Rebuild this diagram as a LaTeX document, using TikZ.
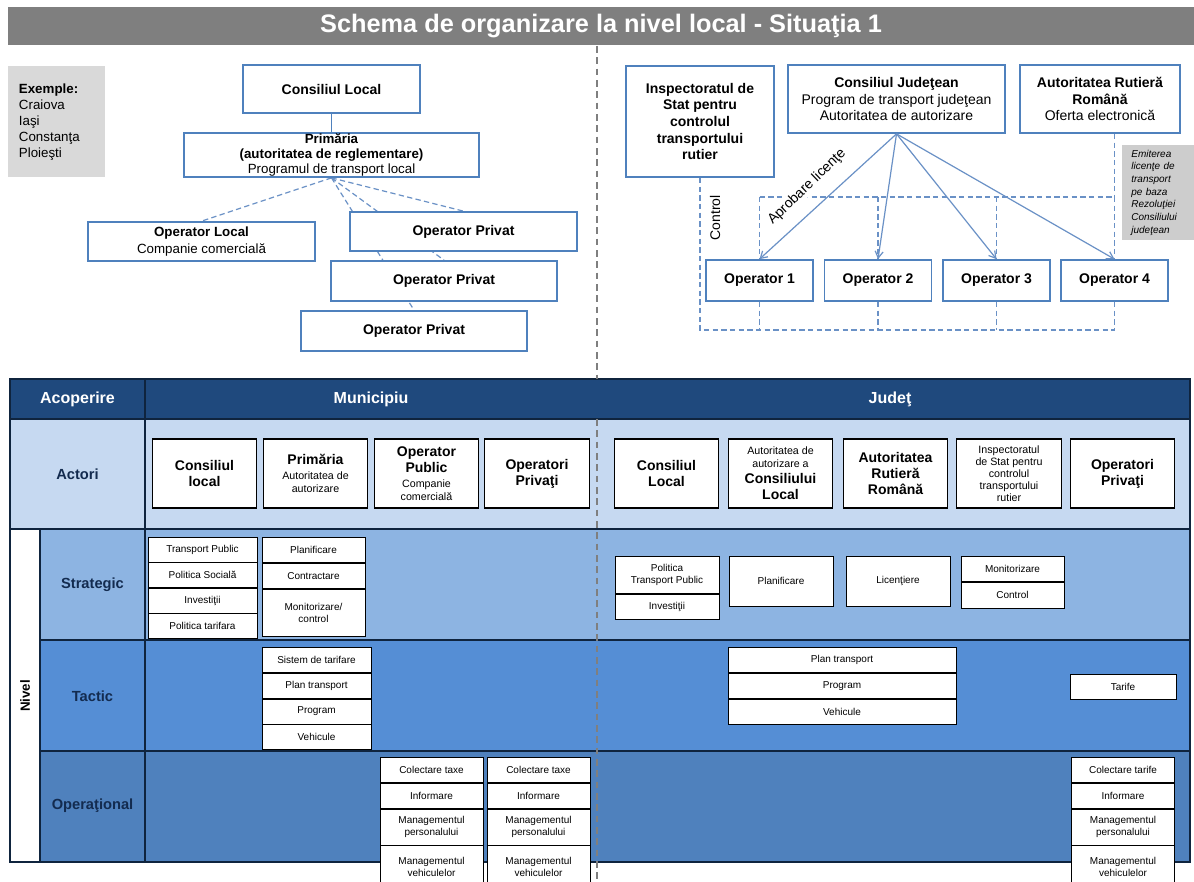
\documentclass[tikz,border=0pt]{standalone}
\usepackage{fontspec}
\setmainfont{Liberation Sans}
\usepackage{tikz}
\usetikzlibrary{arrows.meta,positioning}
\definecolor{Title}{HTML}{7F7F7F}
\definecolor{Shade}{HTML}{D9D9D9}
\definecolor{NoteGray}{HTML}{CDCDCD}
\definecolor{BoxLine}{HTML}{4F81BD}
\definecolor{Link}{HTML}{6A91C6}
\definecolor{Head}{HTML}{1F497D}
\definecolor{Grid}{HTML}{0F243E}
\definecolor{ActRow}{HTML}{C6D9F1}
\definecolor{StratRow}{HTML}{8DB4E2}
\definecolor{TactRow}{HTML}{558ED5}
\definecolor{OperRow}{HTML}{4F81BD}
\definecolor{Navy}{HTML}{132B4F}
\pgfdeclarelayer{back}
\pgfsetlayers{back,main}
\newcommand\actsmall{\fontsize{8}{9.5}\mdseries\selectfont}
\tikzset{
  orgbox/.style={draw=BoxLine, fill=white, line width=1.3pt, align=center, inner sep=0pt, font=\fontsize{10.5}{12.5}\selectfont},
  link/.style={draw=Link, line width=0.9pt, -{Straight Barb[length=5pt,width=6pt]}},
  dashlink/.style={draw=Link, line width=0.9pt, dash pattern=on 4pt off 2.5pt},
  divider/.style={draw=Title, line width=1.2pt, dash pattern=on 5pt off 3.5pt},
  actor/.style={draw=black, fill=white, line width=0.8pt, align=center, inner sep=0pt, minimum width=78.5pt, minimum height=51.75pt, font=\fontsize{10.5}{12}\bfseries\selectfont},
  cell/.style={draw=black, fill=white, line width=0.6pt, align=center, inner sep=0pt, font=\fontsize{7.5}{9}\selectfont},
  rowlabel/.style={text=Navy, font=\fontsize{11}{13}\bfseries\selectfont},
  collabel/.style={text=white, font=\fontsize{12}{14}\bfseries\selectfont},
  grid/.style={draw=Grid, line width=1.8pt}
}

\begin{document}
\begin{tikzpicture}[x=0.75pt, y=-0.75pt, node distance=0pt]
  \useasboundingbox (0,0) rectangle (1194,881);
  \clip (0,0) rectangle (1194,881);
  \begin{pgfonlayer}{back}
    \fill[white] (0,0) rectangle (1194,881);
  \end{pgfonlayer}

  % title
  \node[fill=Title, minimum width=889.5pt, minimum height=28.5pt, inner sep=0pt, text=white, font=\fontsize{19}{21}\bfseries\selectfont] (title) at (601,26) {Schema de organizare la nivel local - Situaţia 1};

  % local level, left half
  \node[fill=Shade, anchor=north west, inner xsep=8pt, inner ysep=0pt, text width=56.75pt, minimum height=83.25pt, align=left, font=\fontsize{10}{12}\selectfont] (ex) at (8,66) {\textbf{Exemple:}\\Craiova\\Iaşi\\Constanţa\\Ploieşti};
  \node[orgbox, minimum width=132.75pt, minimum height=36pt] (cl) at (331.5,89) {\textbf{Consiliul Local}};
  \node[orgbox, minimum width=221.25pt, minimum height=33pt, font=\fontsize{10}{11}\selectfont] (prim) at (331.5,155) {\textbf{Primăria}\\\textbf{(autoritatea de reglementare)}\\Programul de transport local};
  \node[orgbox, minimum width=170.25pt, minimum height=29.25pt, font=\fontsize{10}{12.5}\selectfont] (oploc) at (201.5,241.5) {\textbf{Operator Local}\\Companie comercială};
  \node[orgbox, minimum width=170.25pt, minimum height=29.25pt] (opp1) at (463.5,231.5) {\textbf{Operator Privat}};
  \node[orgbox, minimum width=169.5pt, minimum height=30pt] (opp2) at (444,281) {\textbf{Operator Privat}};
  \node[orgbox, minimum width=169.5pt, minimum height=30pt] (opp3) at (414,331) {\textbf{Operator Privat}};
  \draw[draw=BoxLine, line width=0.9pt] (cl.south) -- (prim.north);
  \begin{pgfonlayer}{back}
    \foreach \t in {oploc,opp1,opp2,opp3}
      \draw[dashlink] (prim.south) -- (\t.north);
  \end{pgfonlayer}

  % county level, right half
  \node[orgbox, minimum width=111pt, minimum height=83.25pt, font=\fontsize{10.5}{12.4}\bfseries\selectfont] (isc) at (700,121.5) {Inspectoratul de\\Stat pentru\\controlul\\transportului\\rutier};
  \node[orgbox, minimum width=162.75pt, minimum height=51pt] (cj) at (896.5,99) {\textbf{Consiliul Judeţean}\\Program de transport judeţean\\Autoritatea de autorizare};
  \node[orgbox, minimum width=120pt, minimum height=51pt] (arr) at (1100,99) {\textbf{Autoritatea Rutieră}\\\textbf{Română}\\Oferta electronică};
  \node[fill=NoteGray, minimum width=54pt, minimum height=71.25pt, text width=40pt, inner xsep=7pt, align=left, font=\fontsize{7.5}{9.5}\itshape\selectfont] (note) at (1158,192.5) {Emiterea\\licenţe de\\transport\\pe baza\\Rezoluţiei\\Consiliului\\judeţean};
  \foreach \i/\x in {1/759.5,2/878,3/996.5,4/1114.5}
    \node[orgbox, minimum width=80.25pt, minimum height=30.75pt, font=\fontsize{10.5}{12}\bfseries\selectfont] (op\i) at (\x,280.5) {Operator \i};

  \coordinate (ctop) at (0,197);
  \coordinate (cbot) at (0,330);
  \draw[dashlink] (op1.north |- ctop) -- (op4.north |- ctop);
  \foreach \i in {1,...,4} {
    \draw[dashlink] (op\i.north |- ctop) -- (op\i.north);
    \draw[dashlink] (op\i.south) -- (op\i.south |- cbot);
  }
  \draw[dashlink] (isc.south) -- (isc.south |- cbot) -- (op4.south |- cbot);
  \draw[dashlink] (arr.south -| op4.north) -- (op4.north |- ctop);
  \node[rotate=90, font=\fontsize{10.5}{12}\selectfont] (ctl) at (715,218) {Control};

  \node[rotate=44, fill=white, inner sep=1pt, font=\fontsize{10.5}{12}\selectfont] (aprob) at (807,187) {Aprobare licenţe};
  \foreach \i in {1,...,4}
    \draw[link] (cj.south) -- (op\i.north);

  % table
  \fill[Head] (10,379) rectangle (1190,419);
  \fill[ActRow] (10,419) rectangle (1190,529);
  \fill[StratRow] (40,529) rectangle (1190,640);
  \fill[TactRow] (40,640) rectangle (1190,751);
  \fill[OperRow] (40,751) rectangle (1190,862);
  \fill[white] (10,529) rectangle (40,862);
  \draw[grid] (10,379) rectangle (1190,862);
  \draw[grid] (10,419) -- (1190,419) (10,529) -- (1190,529)
              (40,640) -- (1190,640) (40,751) -- (1190,751)
              (40,529) -- (40,862) (145,379) -- (145,862);

  \node[collabel] (acop) at (77.5,399) {Acoperire};
  \node[collabel] (mun) at (371,399) {Municipiu};
  \node[collabel] (jud) at (890,399) {Judeţ};
  \node[rowlabel] (actori) at (77.5,474) {Actori};
  \node[rowlabel] (strat) at (92.5,585) {Strategic};
  \node[rowlabel] (tact) at (92.5,696) {Tactic};
  \node[rowlabel] (oper) at (92.5,806) {Operaţional};
  \node[rowlabel, text=black, font=\fontsize{10}{12}\bfseries\selectfont, rotate=90] (nivel) at (25,696) {Nivel};

  % actors
  \node[actor] (a1) at (204.5,473.5) {Consiliul\\local};
  \node[actor] (a2) at (315.5,473.5) {Primăria\\[-1pt]\actsmall Autoritatea de\\[-2.5pt]\actsmall autorizare};
  \node[actor] (a3) at (426.5,473.5) {Operator\\Public\\[-1pt]\actsmall Companie\\[-2.5pt]\actsmall comercială};
  \node[actor] (a4) at (537,473.5) {Operatori\\Privaţi};
  \node[actor] (a5) at (666.5,473.5) {Consiliul\\Local};
  \node[actor] (a6) at (780.5,473.5) {\actsmall Autoritatea de\\[-2.5pt]\actsmall autorizare a\\Consiliului\\Local};
  \node[actor] (a7) at (895.5,473.5) {Autoritatea\\Rutieră\\Română};
  \node[actor] (a8) at (1009,473.5) {\actsmall Inspectoratul\\[-3pt]\actsmall de Stat pentru\\[-3pt]\actsmall controlul\\[-3pt]\actsmall transportului\\[-3pt]\actsmall rutier};
  \node[actor] (a9) at (1122.5,473.5) {Operatori\\Privaţi};

  % strategic
  \node[cell, minimum width=81.75pt, minimum height=18.5pt, anchor=north] (sml1) at (202.5,537) {Transport Public};
  \foreach \txt [count=\i from 2, remember=\i as \j (initially 1)] in {Politica Socială,Investiţii,Politica tarifara}
    \node[cell, minimum width=81.75pt, minimum height=18.5pt, below=of sml\j] (sml\i) {\txt};
  \node[cell, minimum width=77.25pt, minimum height=18.75pt, anchor=north] (smr1) at (313.5,537) {Planificare};
  \node[cell, minimum width=77.25pt, minimum height=18.75pt, below=of smr1] (smr2) {Contractare};
  \node[cell, minimum width=77.25pt, minimum height=35.25pt, below=of smr2] (smr3) {Monitorizare/\\control};

  \node[cell, minimum width=78pt, minimum height=27.75pt, anchor=north] (sj1) at (667,556) {Politica\\Transport Public};
  \node[cell, minimum width=78pt, minimum height=18.75pt, below=of sj1] (sj2) {Investiţii};
  \node[cell, minimum width=78pt, minimum height=37.5pt, anchor=north] (sj3) at (781,556) {Planificare};
  \node[cell, minimum width=78pt, minimum height=37.5pt, anchor=north] (sj4) at (898,556) {Licenţiere};
  \node[cell, minimum width=77.25pt, minimum height=18.75pt, anchor=north] (sj5) at (1012.5,556) {Monitorizare};
  \node[cell, minimum width=77.25pt, minimum height=19.5pt, below=of sj5] (sj6) {Control};

  % tactic
  \node[cell, minimum width=81.75pt, minimum height=18.75pt, anchor=north] (tm1) at (316.5,647) {Sistem de tarifare};
  \foreach \txt [count=\i from 2, remember=\i as \j (initially 1)] in {Plan transport,Program,Vehicule}
    \node[cell, minimum width=81.75pt, minimum height=18.75pt, below=of tm\j] (tm\i) {\txt};
  \node[cell, minimum width=171pt, minimum height=18.75pt, anchor=north] (tj1) at (842,647) {Plan transport};
  \foreach \txt [count=\i from 2, remember=\i as \j (initially 1)] in {Program,Vehicule}
    \node[cell, minimum width=171pt, minimum height=18.75pt, below=of tj\j] (tj\i) {\txt};
  \node[cell, minimum width=79.5pt, minimum height=18.75pt] (tarif) at (1123,686.5) {Tarife};

  % operational
  \foreach \cx/\nm/\first in {431.5/oa/Colectare taxe,538.5/ob/Colectare taxe,1123/oc/Colectare tarife} {
    \node[cell, minimum width=77.25pt, minimum height=18.75pt, anchor=north] (\nm1) at (\cx,757) {\first};
    \node[cell, minimum width=77.25pt, minimum height=18.75pt, below=of \nm1] (\nm2) {Informare};
    \node[cell, minimum width=77.25pt, minimum height=27pt, below=of \nm2] (\nm3) {Managementul\\personalului};
    \node[cell, minimum width=77.25pt, minimum height=31.5pt, below=of \nm3] (\nm4) {Managementul\\vehiculelor};
  }

  % divider
  \draw[divider] (597,46) -- (597,379);
  \draw[divider] (597,419) -- (597,881);
\end{tikzpicture}
\end{document}
